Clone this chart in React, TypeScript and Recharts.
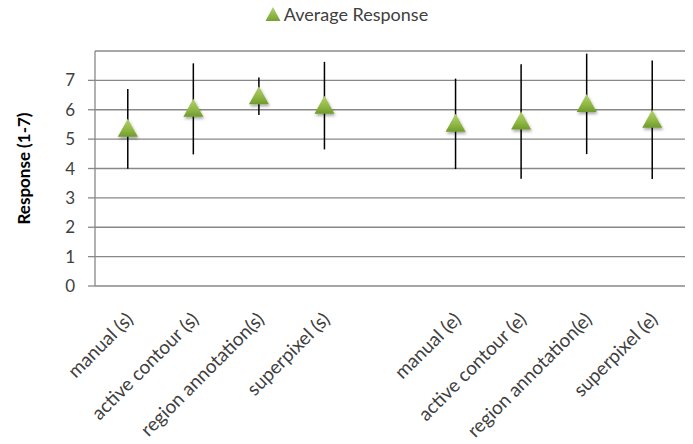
import React from 'react';
import { ComposedChart, Line, ErrorBar, XAxis, YAxis, CartesianGrid, Label } from 'recharts';

const categories = [
  'manual (s)',
  'active contour (s)',
  'region annotation(s)',
  'superpixel (s)',
  '',
  'manual (e)',
  'active contour (e)',
  'region annotation(e)',
  'superpixel (e)',
];
const means: (number | null)[] = [5.35, 6.03, 6.46, 6.14, null, 5.52, 5.6, 6.2, 5.66];
const errors: (number | null)[] = [1.36, 1.55, 0.64, 1.49, null, 1.54, 1.95, 1.71, 2.02];
const yTicks = [0, 1, 2, 3, 4, 5, 6, 7];
const seriesName = 'Average Response';

const data = categories
  .map((name, i) => ({ name, pos: i + 0.5, mean: means[i], err: errors[i] }))
  .filter((d) => d.mean !== null);

const boundaryTicks = categories.map((_, i) => i).concat([categories.length]);
const labelTicks = categories.map((_, i) => i + 0.5);

const FONT = 'Lato, "Open Sans", sans-serif';
const GRID = '#888888';
const TEXT = '#404040';

const Triangle = (props: any) => {
  const { cx, cy, index } = props;
  if (cx == null || cy == null || isNaN(cx) || isNaN(cy)) return <g key={`t${index}`} />;
  const w = 10;
  const id = `tg${index}`;
  const fid = `ts${index}`;
  return (
    <g key={`t${index}`}>
      <defs>
        <linearGradient id={id} x1="0" y1="0" x2="0" y2="1">
          <stop offset="0%" stopColor="#b3d36e" />
          <stop offset="60%" stopColor="#8fb743" />
          <stop offset="100%" stopColor="#6f9a2c" />
        </linearGradient>
        <filter id={fid} x="-50%" y="-50%" width="200%" height="200%">
          <feDropShadow dx="1" dy="2" stdDeviation="1.5" floodColor="#000" floodOpacity="0.35" />
        </filter>
      </defs>
      <path
        d={`M${cx},${cy - 10} L${cx + w},${cy + 8} L${cx - w},${cy + 8} Z`}
        fill={`url(#${id})`}
        filter={`url(#${fid})`}
      />
    </g>
  );
};

const XLabelTick = (props: any) => {
  const { x, y, payload } = props;
  const label = categories[Math.floor(payload.value)] || '';
  const tx = x - 3;
  return (
    <text
      x={tx}
      y={y}
      dy="0.71em"
      transform={`rotate(-45, ${tx}, ${y})`}
      textAnchor="end"
      fontFamily={FONT}
      fontSize={19}
      fill={TEXT}
    >
      {label}
    </text>
  );
};

const YLabel = (props: any) => {
  const vb = props.viewBox || {};
  const x = 23;
  const y = (vb.y || 51) + (vb.height || 235) / 2;
  return (
    <text
      x={x}
      y={y}
      transform={`rotate(-90, ${x}, ${y})`}
      textAnchor="middle"
      dominantBaseline="central"
      fontFamily={FONT}
      fontWeight="bold"
      fontSize={17}
      fill="#000"
    >
      Response (1-7)
    </text>
  );
};

export default function App() {
  return (
    <div style={{ position: 'absolute', left: 0, top: 0, width: 693, height: 444, background: '#fff' }}>
      <div
        style={{
          position: 'absolute',
          left: 0,
          top: 0,
          width: 693,
          height: 28,
          display: 'flex',
          alignItems: 'center',
          justifyContent: 'center',
          fontFamily: FONT,
          fontSize: 18,
          color: TEXT,
        }}
      >
        <svg width={17} height={16} style={{ marginRight: 2 }}>
          <defs>
            <linearGradient id="lg" x1="0" y1="0" x2="0" y2="1">
              <stop offset="0%" stopColor="#b3d36e" />
              <stop offset="100%" stopColor="#76a030" />
            </linearGradient>
          </defs>
          <path d="M8,1 L15.5,15 L0.5,15 Z" fill="url(#lg)" />
        </svg>
        <span>{seriesName}</span>
      </div>
      <ComposedChart width={693} height={444} data={data} margin={{ top: 51, right: 8, bottom: 0, left: 0 }}>
        <CartesianGrid vertical={false} stroke={GRID} strokeWidth={1.3} />
        <XAxis
          xAxisId="main"
          dataKey="pos"
          type="number"
          domain={[0, categories.length]}
          ticks={boundaryTicks}
          tick={false}
          tickSize={6}
          height={0}
          axisLine={{ stroke: GRID, strokeWidth: 1.3 }}
          tickLine={{ stroke: GRID, strokeWidth: 1.3 }}
        />
        <XAxis
          xAxisId="labels"
          dataKey="pos"
          type="number"
          domain={[0, categories.length]}
          ticks={labelTicks}
          interval={0}
          tick={<XLabelTick />}
          tickSize={0}
          tickMargin={25}
          height={158}
          axisLine={false}
          tickLine={false}
        />
        <YAxis
          type="number"
          domain={[0, 8]}
          ticks={yTicks}
          interval={0}
          width={95}
          tickSize={7}
          tickMargin={13}
          axisLine={{ stroke: GRID, strokeWidth: 1.3 }}
          tickLine={{ stroke: GRID, strokeWidth: 1.3 }}
          tick={{ fontFamily: FONT, fontSize: 17, fill: TEXT }}
        >
          <Label content={<YLabel />} />
        </YAxis>
        <Line
          xAxisId="main"
          dataKey="mean"
          stroke="none"
          dot={Triangle}
          activeDot={false}
          isAnimationActive={false}
          legendType="triangle"
          name={seriesName}
        >
          <ErrorBar dataKey="err" width={0} stroke="#000" strokeWidth={1.5} direction="y" />
        </Line>
      </ComposedChart>
    </div>
  );
}
